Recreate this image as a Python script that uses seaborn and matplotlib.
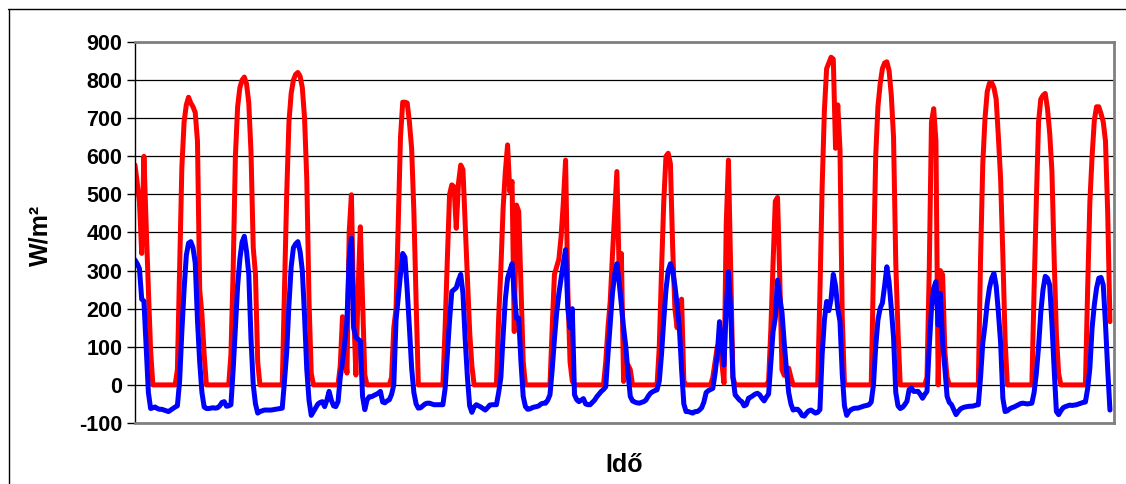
import numpy as np
import pandas as pd
import matplotlib
matplotlib.use("Agg")
import matplotlib.pyplot as plt
from matplotlib.lines import Line2D
import seaborn as sns

# Hourly values, one row per day (first row starts at noon)
global_radiation = [
    577, 530, 480, 345, 600, 420, 250, 90, 0, 0, 0, 0,
    0, 0, 0, 0, 0, 0, 0, 40, 300, 570, 690, 735, 755, 740, 730, 715, 640, 250, 185, 80, 0, 0, 0, 0,
    0, 0, 0, 0, 0, 0, 0, 80, 300, 600, 730, 780, 800, 808, 790, 740, 610, 360, 290, 60, 0, 0, 0, 0,
    0, 0, 0, 0, 0, 0, 0, 250, 500, 690, 765, 800, 815, 820, 810, 780, 700, 540, 220, 30, 0, 0, 0, 0,
    0, 0, 0, 0, 0, 0, 0, 0, 50, 179, 100, 31, 400, 499, 200, 26, 250, 415, 219, 26, 0, 0, 0, 0,
    0, 0, 0, 0, 0, 0, 0, 20, 150, 200, 420, 650, 742, 742, 740, 690, 620, 455, 220, 0, 0, 0, 0, 0,
    0, 0, 0, 0, 0, 0, 0, 150, 330, 500, 525, 520, 411, 530, 577, 565, 420, 280, 140, 50, 0, 0, 0, 0,
    0, 0, 0, 0, 0, 0, 0, 175, 306, 464, 560, 630, 507, 534, 140, 472, 455, 262, 61, 0, 0, 0, 0, 0,
    0, 0, 0, 0, 0, 0, 0, 150, 290, 310, 330, 390, 480, 590, 250, 60, 10, 0, 0, 0, 0, 0, 0, 0,
    0, 0, 0, 0, 0, 0, 0, 60, 150, 219, 340, 450, 560, 300, 345, 9, 50, 52, 40, 0, 0, 0, 0, 0,
    0, 0, 0, 0, 0, 0, 0, 100, 300, 480, 600, 608, 580, 360, 200, 150, 215, 225, 10, 0, 0, 0, 0, 0,
    0, 0, 0, 0, 0, 0, 0, 20, 60, 100, 110, 60, 5, 420, 590, 300, 20, 0, 0, 0, 0, 0, 0, 0,
    0, 0, 0, 0, 0, 0, 0, 0, 10, 145, 320, 482, 492, 280, 40, 25, 30, 44, 20, 0, 0, 0, 0, 0,
    0, 0, 0, 0, 0, 0, 0, 240, 520, 720, 830, 845, 860, 855, 621, 735, 617, 180, 0, 0, 0, 0, 0, 0,
    0, 0, 0, 0, 0, 0, 0, 300, 600, 730, 790, 830, 845, 848, 825, 760, 650, 320, 140, 0, 0, 0, 0, 0,
    0, 0, 0, 0, 0, 0, 0, 20, 300, 690, 725, 640, 0, 300, 289, 87, 20, 0, 0, 0, 0, 0, 0, 0,
    0, 0, 0, 0, 0, 0, 0, 330, 580, 700, 770, 792, 793, 780, 750, 650, 540, 340, 120, 0, 0, 0, 0, 0,
    0, 0, 0, 0, 0, 0, 0, 250, 481, 690, 750, 760, 765, 725, 660, 560, 330, 131, 30, 0, 0, 0, 0, 0,
    0, 0, 0, 0, 0, 0, 0, 250, 481, 600, 695, 730, 730, 712, 690, 640, 450, 166,
]

net_radiation = [
    328, 318, 305, 225, 220, 100, -20, -62, -60, -58, -62, -64,
    -64, -66, -68, -70, -66, -62, -58, -55, 10, 140, 250, 340, 372, 376, 360, 320, 170, 60, -20, -58, -62, -62, -61, -60,
    -61, -60, -55, -46, -44, -56, -55, -52, 40, 150, 260, 330, 375, 390, 350, 290, 120, 0, -50, -74, -70, -68, -66, -66,
    -66, -66, -65, -64, -63, -62, -61, 10, 87, 210, 310, 360, 370, 376, 350, 300, 180, 40, -40, -80, -70, -60, -50, -46,
    -44, -57, -40, -17, -40, -55, -57, -44, 20, 60, 110, 170, 330, 385, 150, 125, 120, 115, -30, -65, -40, -31, -31, -28,
    -25, -22, -17, -45, -47, -42, -39, -25, 0, 170, 230, 290, 345, 335, 250, 150, 44, -20, -50, -61, -60, -55, -50, -48,
    -48, -50, -52, -52, -52, -52, -52, -10, 80, 170, 245, 250, 255, 275, 290, 240, 120, 20, -55, -72, -58, -52, -55, -58,
    -62, -66, -60, -53, -52, -52, -52, -20, 20, 130, 225, 280, 300, 318, 240, 175, 175, 60, -30, -57, -64, -63, -60, -58,
    -57, -55, -50, -48, -48, -40, -26, 40, 120, 190, 240, 280, 320, 355, 200, 150, 200, -26, -39, -44, -40, -36, -50, -52,
    -52, -46, -40, -31, -24, -17, -12, -5, 80, 160, 240, 290, 318, 270, 210, 150, 100, 30, -30, -42, -45, -47, -48, -46,
    -44, -40, -30, -22, -18, -15, -13, 10, 80, 170, 250, 300, 318, 300, 260, 210, 150, 40, -50, -70, -70, -72, -74, -70,
    -70, -66, -60, -45, -20, -15, -12, -9, 30, 80, 166, 110, 52, 200, 297, 200, 20, -26, -33, -40, -44, -55, -52, -35,
    -32, -28, -24, -22, -26, -35, -42, -32, -24, 60, 140, 175, 275, 230, 190, 110, 40, -20, -50, -66, -64, -64, -70, -80,
    -82, -74, -68, -66, -70, -74, -72, -65, 80, 170, 219, 195, 225, 290, 260, 200, 166, 30, -55, -80, -70, -65, -62, -61,
    -61, -59, -57, -55, -54, -52, -45, 0, 100, 170, 201, 215, 260, 310, 270, 200, 125, -20, -55, -62, -59, -52, -43, -12,
    -8, -17, -17, -17, -25, -35, -25, -17, 100, 200, 254, 271, 157, 240, 110, 44, -30, -46, -52, -65, -78, -70, -63, -60,
    -58, -57, -56, -56, -55, -53, -52, 20, 110, 157, 215, 255, 280, 293, 260, 190, 110, -35, -70, -68, -63, -60, -58, -55,
    -52, -49, -48, -49, -50, -49, -48, -20, 30, 100, 190, 250, 285, 280, 262, 160, 40, -70, -78, -68, -60, -57, -55, -53,
    -54, -53, -52, -50, -48, -46, -45, -10, 44, 150, 210, 254, 280, 282, 262, 160, 40, -66,
]

y_ticks = [-100, 0, 100, 200, 300, 400, 500, 600, 700, 800, 900]
x_title = "Idő"
y_title = "W/m²"

sns.set_style("white")
plt.rcParams["font.family"] = ["Liberation Sans", "DejaVu Sans"]
plt.rcParams["text.color"] = "black"
plt.rcParams["ytick.color"] = "black"
plt.rcParams["ytick.labelcolor"] = "black"

df = pd.DataFrame({
    "t": np.arange(len(global_radiation)),
    "global": global_radiation,
    "net": net_radiation,
})

W, H = 1126, 484
fig = plt.figure(figsize=(W / 100, H / 100), dpi=100)
ax = fig.add_axes([135 / W, 1 - 423 / H, (1114 - 135) / W, (423 - 42) / H])

sns.lineplot(data=df, x="t", y="global", ax=ax, color="#FF0000", linewidth=3.6,
             solid_joinstyle="round", solid_capstyle="round")
sns.lineplot(data=df, x="t", y="net", ax=ax, color="#0000FF", linewidth=3.6,
             solid_joinstyle="round", solid_capstyle="round")

ax.set_xlim(0, (1114 - 135) / 2.231)
ax.set_ylim(-100, 900)
ax.set_yticks(y_ticks)
ax.set_yticklabels([str(v) for v in y_ticks], fontsize=15.5, fontweight="bold", color="black")
ax.set_xticks([])
ax.set_xlabel("")
ax.set_ylabel("")
ax.yaxis.grid(True, color="black", linewidth=0.9)
ax.set_axisbelow(True)
ax.tick_params(axis="y", direction="out", length=6, width=1, color="black", pad=3, left=True)

for side in ["top", "right", "bottom"]:
    ax.spines[side].set_color("#808080")
    ax.spines[side].set_linewidth(2)
ax.spines["left"].set_color("black")
ax.spines["left"].set_linewidth(1)

fig.text(624.5 / W, 1 - 465 / H, x_title, ha="center", va="center",
         fontsize=18, fontweight="bold", color="black")
fig.text(40 / W, 1 - 235 / H, y_title, ha="center", va="center",
         fontsize=18, fontweight="bold", rotation=90, color="black")

# outer chart border (cut off at right and bottom)
fig.add_artist(Line2D([8 / W, 1], [1 - 8.5 / H, 1 - 8.5 / H], color="black", linewidth=1))
fig.add_artist(Line2D([8.5 / W, 8.5 / W], [0, 1 - 8.5 / H], color="black", linewidth=1))

fig.savefig("out.png", dpi=100)
